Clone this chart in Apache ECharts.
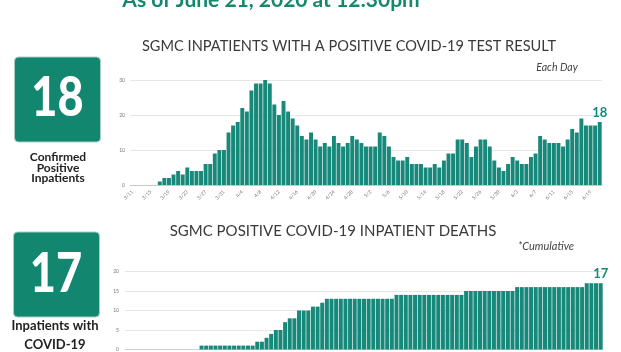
<!DOCTYPE html>
<html>
<head>
<meta charset="utf-8">
<script src="https://cdn.jsdelivr.net/npm/echarts@6/dist/echarts.min.js"></script>
<style>
html,body{margin:0;padding:0;background:#fff;}
#chart{width:621px;height:352px;}
</style>
</head>
<body>
<div id="chart"></div>
<script>
// Dates (3/11 - 6/21, 2020)
var dates = [
'3/11','3/12','3/13','3/14','3/15','3/16','3/17','3/18','3/19','3/20','3/21','3/22','3/23','3/24','3/25','3/26','3/27','3/28','3/29','3/30','3/31',
'4/1','4/2','4/3','4/4','4/5','4/6','4/7','4/8','4/9','4/10','4/11','4/12','4/13','4/14','4/15','4/16','4/17','4/18','4/19','4/20','4/21','4/22','4/23','4/24','4/25','4/26','4/27','4/28','4/29','4/30',
'5/1','5/2','5/3','5/4','5/5','5/6','5/7','5/8','5/9','5/10','5/11','5/12','5/13','5/14','5/15','5/16','5/17','5/18','5/19','5/20','5/21','5/22','5/23','5/24','5/25','5/26','5/27','5/28','5/29','5/30','5/31',
'6/1','6/2','6/3','6/4','6/5','6/6','6/7','6/8','6/9','6/10','6/11','6/12','6/13','6/14','6/15','6/16','6/17','6/18','6/19','6/20','6/21'
];

// Positive inpatients each day
var inpatients = [
0,0,0,0,0,0,
1,2,2,3,4,3,5,4,4,4,6,6,9,10,10,
15,17,18,22,21,27,29,29,30,29,23,20,24,21,19,
17,14,13,15,13,11,12,11,14,12,11,12,14,13,12,
11,11,11,15,14,11,8,7,7,8,6,6,6,5,5,6,
5,7,9,9,13,13,12,8,11,13,13,11,7,5,4,6,
8,7,6,6,8,9,14,13,12,12,12,11,13,16,15,19,17,17,17,18
];

// Cumulative inpatient deaths
var deaths = [
0,0,0,0,0,0,0,0,0,0,0,0,0,0,0,0,
1,1,1,1,1,1,1,1,1,1,1,1,
2,2,3,4,5,5,7,8,8,10,10,10,11,11,12,
13,13,13,13,13,13,13,13,13,13,13,13,13,13,13,
14,14,14,14,14,14,14,14,14,14,14,14,14,14,14,
15,15,15,15,15,15,15,15,15,15,15,
16,16,16,16,16,16,16,16,16,16,16,16,16,16,16,
17,17,17,17
];

var topTicks = [0,10,20,30];
var bottomTicks = [0,5,10,15,20];

var TEAL = '#17897a';
var BOX = '#12866f';

function withLastLabel(arr) {
  return arr.map(function (v, i) {
    if (i === arr.length - 1) {
      return {value: v, label: {show: true, position: 'top', distance: 3,
        color: TEAL, fontSize: 13, fontWeight: 'bold', fontFamily: 'Lato'}};
    }
    return v;
  });
}

var chart = echarts.init(document.getElementById('chart'), null, {renderer: 'canvas'});

var option = {
  backgroundColor: '#ffffff',
  animation: false,
  textStyle: {fontFamily: 'Lato'},
  grid: [
    {left: 130, right: 19, top: 80, height: 105, containLabel: false},
    {left: 125, right: 18, top: 271.5, height: 79.5, containLabel: false}
  ],
  xAxis: [
    {type: 'category', gridIndex: 0, data: dates,
     axisLine: {lineStyle: {color: '#c8c8c8', width: 1}},
     axisTick: {show: false},
     axisLabel: {interval: 3, rotate: 45, fontSize: 5, color: '#777', margin: 6}},
    {type: 'category', gridIndex: 1, data: dates,
     axisLine: {lineStyle: {color: '#d0d0d0', width: 1}},
     axisTick: {show: false},
     axisLabel: {show: false}}
  ],
  yAxis: [
    {type: 'value', gridIndex: 0, min: topTicks[0], max: topTicks[topTicks.length - 1], interval: 10,
     axisLine: {show: false}, axisTick: {show: false},
     splitLine: {lineStyle: {color: '#e6e6e6', width: 1}},
     axisLabel: {fontSize: 5, color: '#777', margin: 5}},
    {type: 'value', gridIndex: 1, min: bottomTicks[0], max: bottomTicks[bottomTicks.length - 1], interval: 5,
     axisLine: {show: false}, axisTick: {show: false},
     splitLine: {lineStyle: {color: '#e6e6e6', width: 1}},
     axisLabel: {fontSize: 5, color: '#777', margin: 6}}
  ],
  series: [
    {type: 'bar', xAxisIndex: 0, yAxisIndex: 0, data: withLastLabel(inpatients),
     barCategoryGap: '14%', itemStyle: {color: TEAL}},
    {type: 'bar', xAxisIndex: 1, yAxisIndex: 1, data: withLastLabel(deaths),
     barCategoryGap: '14%', itemStyle: {color: TEAL}}
  ],
  graphic: [
    {type: 'text', style: {text: 'As of June 21, 2020 at 12:30pm', x: 271, y: 10.5,
      textAlign: 'center', textVerticalAlign: 'bottom',
      font: 'bold 21px Lato', fill: '#13886f'}},
    {type: 'text', style: {text: 'SGMC INPATIENTS WITH A POSITIVE COVID-19 TEST RESULT', x: 349, y: 46,
      textAlign: 'center', textVerticalAlign: 'middle',
      font: '14.6px Lato', fill: '#3a3a3a'}},
    {type: 'text', style: {text: 'Each Day', x: 557, y: 68,
      textAlign: 'center', textVerticalAlign: 'middle',
      font: 'italic 10.5px Lato', fill: '#444'}},
    {type: 'text', style: {text: 'SGMC POSITIVE COVID-19 INPATIENT DEATHS', x: 333, y: 231,
      textAlign: 'center', textVerticalAlign: 'middle',
      font: '15px Lato', fill: '#3a3a3a'}},
    {type: 'text', style: {text: '*Cumulative', x: 546, y: 246,
      textAlign: 'center', textVerticalAlign: 'middle',
      font: 'italic 11px Lato', fill: '#444'}},
    {type: 'rect', shape: {x: 14.5, y: 57, width: 86, height: 85, r: 4},
      style: {fill: BOX, stroke: '#a9cfc6', lineWidth: 1}},
    {type: 'text', x: 57.5, y: 98.5, scaleX: 0.82,
      style: {text: '18', x: 0, y: 0,
      textAlign: 'center', textVerticalAlign: 'middle',
      font: '900 55px Lato', fill: '#ffffff'}},
    {type: 'text', style: {text: 'Confirmed\nPositive\nInpatients', x: 58, y: 168,
      textAlign: 'center', textVerticalAlign: 'middle', lineHeight: 10.5,
      font: 'bold 12px Lato', fill: '#222'}},
    {type: 'rect', shape: {x: 13.5, y: 232, width: 86, height: 85, r: 4},
      style: {fill: BOX, stroke: '#a9cfc6', lineWidth: 1}},
    {type: 'text', x: 56, y: 274, scaleX: 0.82,
      style: {text: '17', x: 0, y: 0,
      textAlign: 'center', textVerticalAlign: 'middle',
      font: '900 55px Lato', fill: '#ffffff'}},
    {type: 'text', style: {text: 'Inpatients with\nCOVID-19', x: 55, y: 335.5,
      textAlign: 'center', textVerticalAlign: 'middle', lineHeight: 19,
      font: 'bold 13px Lato', fill: '#222'}}
  ]
};

chart.setOption(option);
</script>
</body>
</html>
